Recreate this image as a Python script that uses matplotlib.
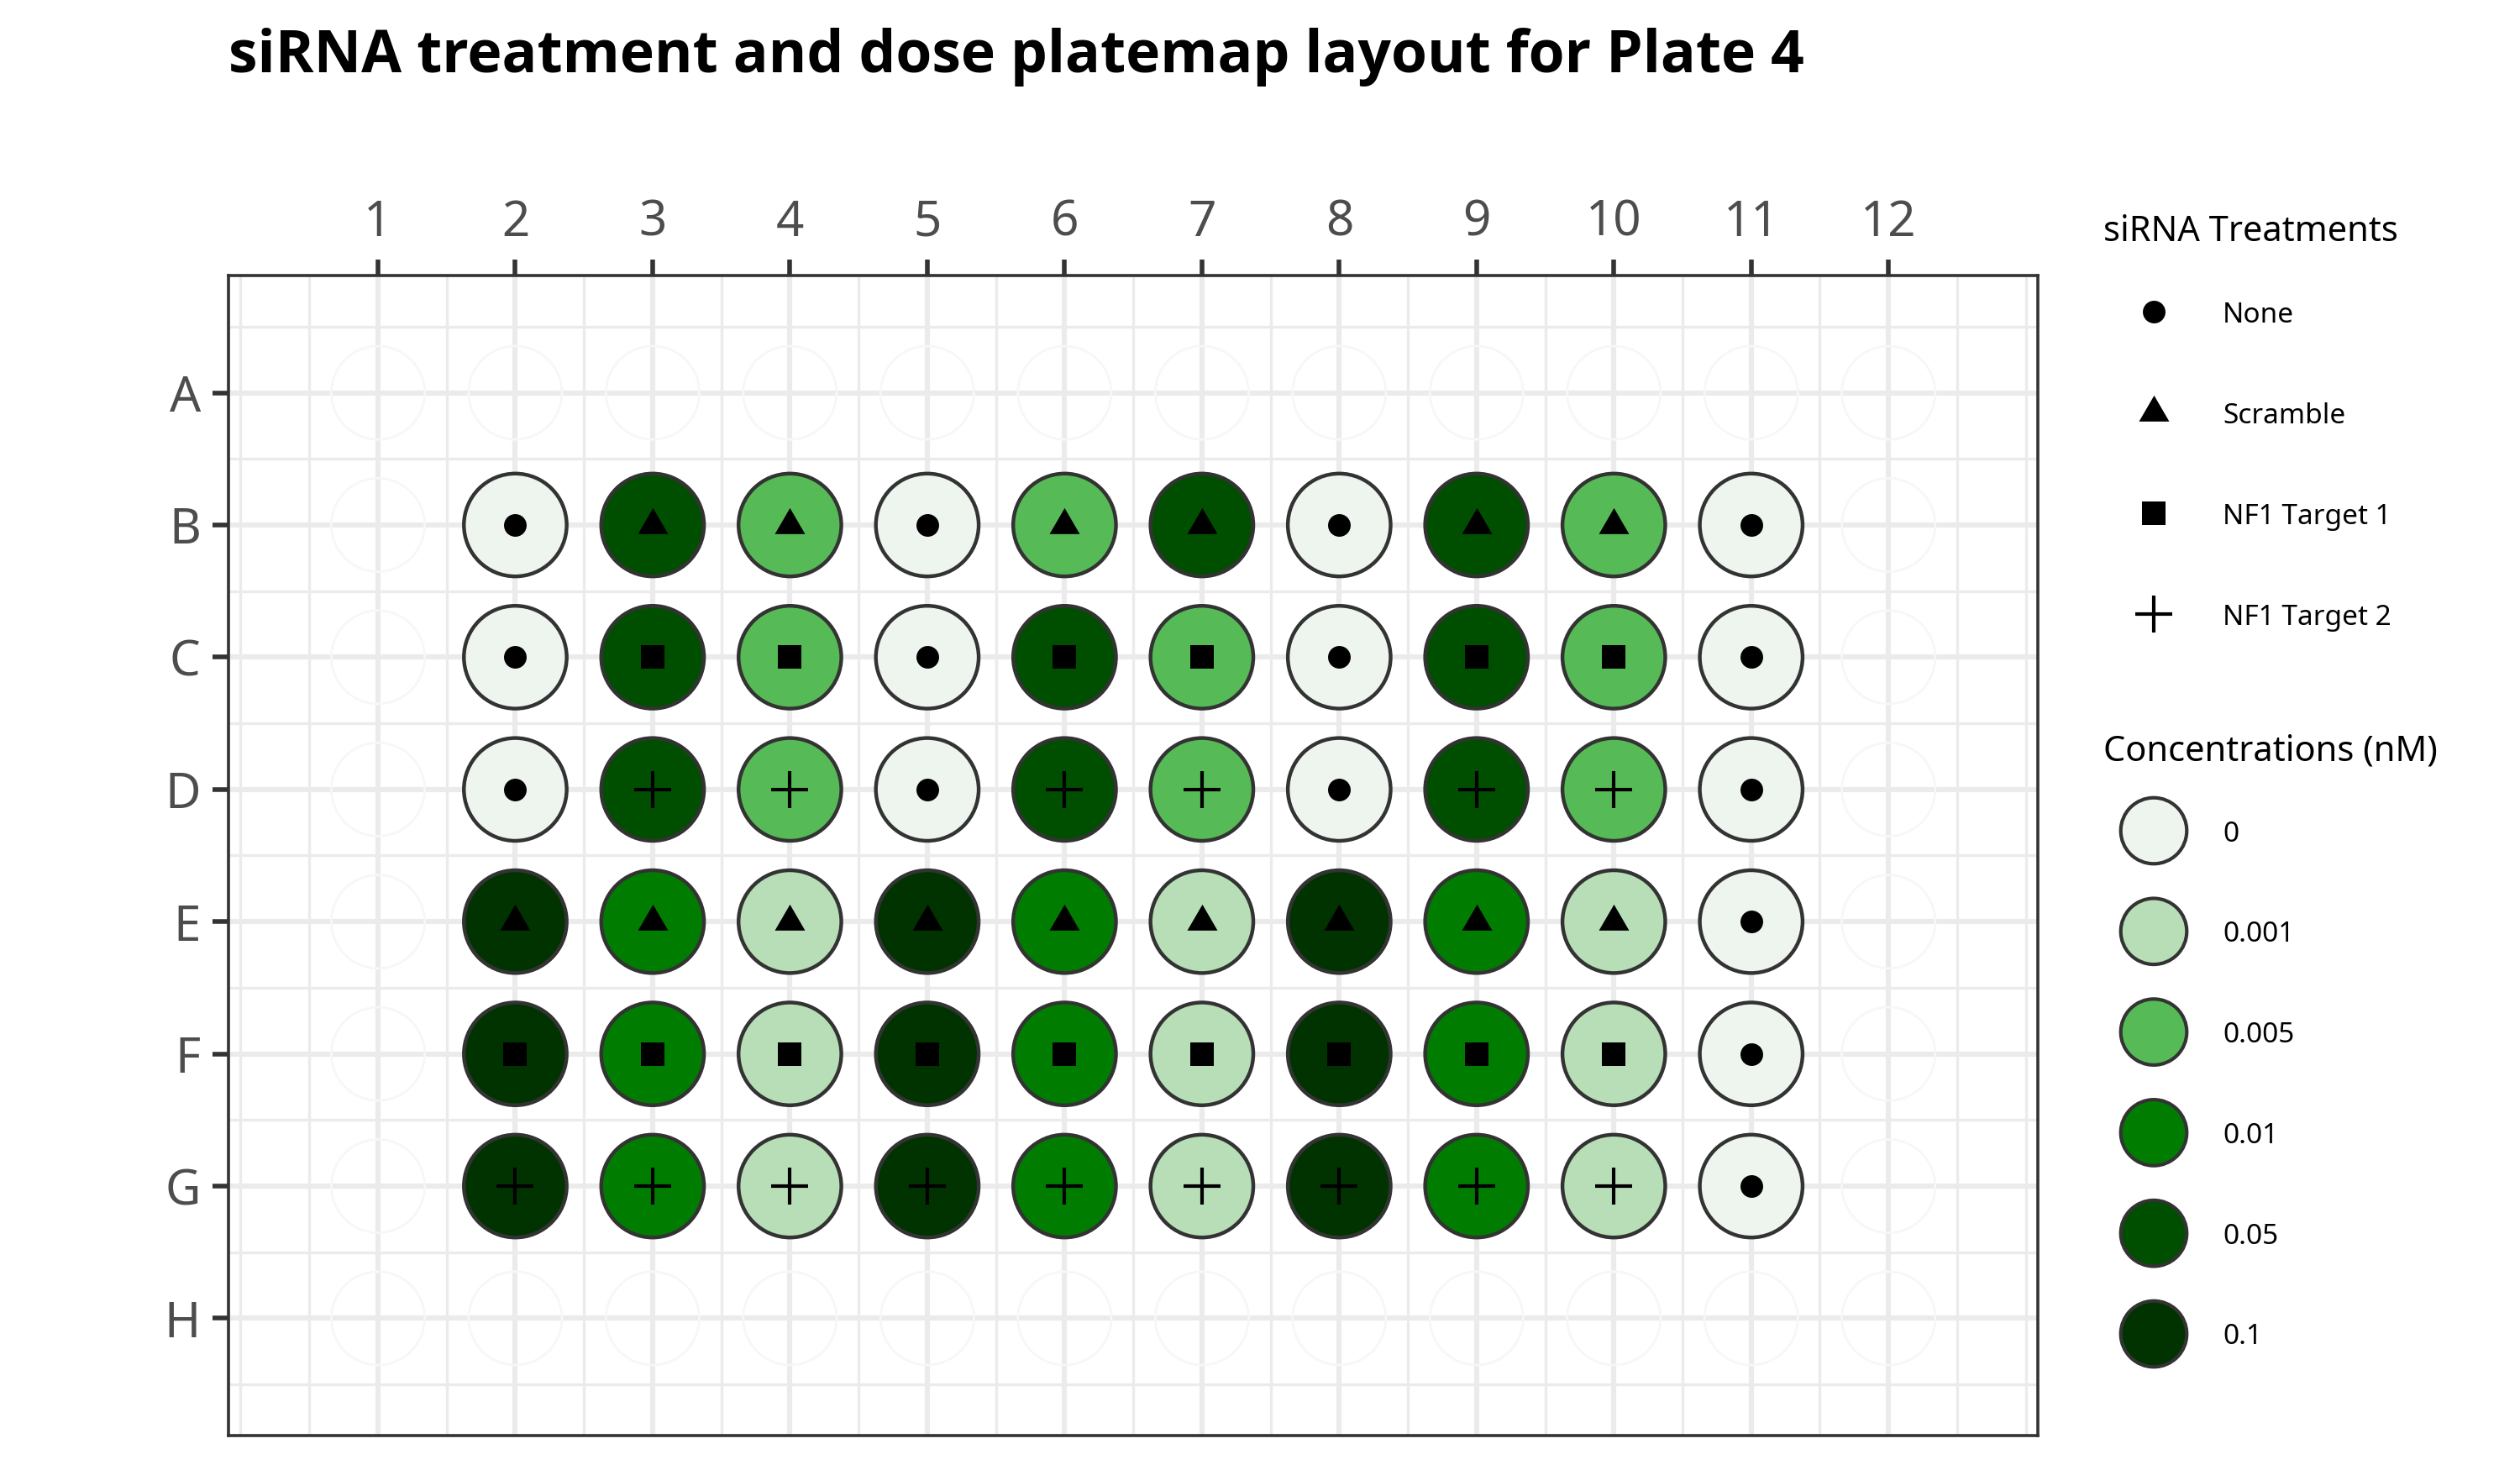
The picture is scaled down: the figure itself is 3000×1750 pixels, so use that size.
import numpy as np
import matplotlib.pyplot as plt
from matplotlib.path import Path

plt.rcParams['font.family'] = ['Noto Sans', 'DejaVu Sans']

# plate layout: rows B..G, columns 2..11
row_names = ['A', 'B', 'C', 'D', 'E', 'F', 'G', 'H']
col_names = list(range(1, 13))
used_rows = ['B', 'C', 'D', 'E', 'F', 'G']
used_cols = list(range(2, 12))

conc_B = [0, 0.05, 0.005, 0, 0.005, 0.05, 0, 0.05, 0.005, 0]
conc_C = [0, 0.05, 0.005, 0, 0.05, 0.005, 0, 0.05, 0.005, 0]
conc_D = [0, 0.05, 0.005, 0, 0.05, 0.005, 0, 0.05, 0.005, 0]
conc_E = [0.1, 0.01, 0.001, 0.1, 0.01, 0.001, 0.1, 0.01, 0.001, 0]
conc_F = [0.1, 0.01, 0.001, 0.1, 0.01, 0.001, 0.1, 0.01, 0.001, 0]
conc_G = [0.1, 0.01, 0.001, 0.1, 0.01, 0.001, 0.1, 0.01, 0.001, 0]

treat_B = ['None', 'Scramble', 'Scramble', 'None', 'Scramble', 'Scramble', 'None', 'Scramble', 'Scramble', 'None']
treat_C = ['None', 'NF1 Target 1', 'NF1 Target 1', 'None', 'NF1 Target 1', 'NF1 Target 1', 'None', 'NF1 Target 1', 'NF1 Target 1', 'None']
treat_D = ['None', 'NF1 Target 2', 'NF1 Target 2', 'None', 'NF1 Target 2', 'NF1 Target 2', 'None', 'NF1 Target 2', 'NF1 Target 2', 'None']
treat_E = ['Scramble'] * 9 + ['None']
treat_F = ['NF1 Target 1'] * 9 + ['None']
treat_G = ['NF1 Target 2'] * 9 + ['None']

treatments = ['None', 'Scramble', 'NF1 Target 1', 'NF1 Target 2']
concentrations = [0, 0.001, 0.005, 0.01, 0.05, 0.1]
conc_labels = ['0', '0.001', '0.005', '0.01', '0.05', '0.1']
conc_colors = ['#EEF5EE', '#B7DEB7', '#56BB56', '#007D00', '#004F00', '#003300']

# marker styles for treatments
w, h = 36.0, 31.0
tri = Path([(0, 2*h/3), (-w/2, -h/3), (w/2, -h/3), (0, 2*h/3)],
           [Path.MOVETO, Path.LINETO, Path.LINETO, Path.CLOSEPOLY])
tmarker = {'None': 'o', 'Scramble': tri, 'NF1 Target 1': 's', 'NF1 Target 2': '+'}
tsize = {'None': 94, 'Scramble': 221, 'NF1 Target 1': 98, 'NF1 Target 2': 240}

conc_rows = [conc_B, conc_C, conc_D, conc_E, conc_F, conc_G]
treat_rows = [treat_B, treat_C, treat_D, treat_E, treat_F, treat_G]

wx, wy, wc, wt = [], [], [], []
for r, cr, tr in zip(used_rows, conc_rows, treat_rows):
    for c, cv, tv in zip(used_cols, cr, tr):
        wx.append(c)
        wy.append(row_names.index(r) + 1)
        wc.append(conc_colors[concentrations.index(cv)])
        wt.append(tv)
wx = np.array(wx); wy = np.array(wy); wt = np.array(wt)

fig = plt.figure(figsize=(15, 8.75), dpi=200)
ax = fig.add_axes([0.0907, 0.0234, 0.718, 0.7892])

# empty plate wells
gx, gy = np.meshgrid(col_names, np.arange(1, 9))
ax.scatter(gx.ravel(), gy.ravel(), s=1600, facecolors='none', edgecolors='#F7F7F7',
           linewidths=1.0, zorder=2)

# filled wells
ax.scatter(wx, wy, s=1940, c=wc, edgecolors='#333333', linewidths=1.6, zorder=3)

for t in treatments:
    m = wt == t
    if t == 'NF1 Target 2':
        ax.scatter(wx[m], wy[m], s=tsize[t], marker=tmarker[t], c='black', linewidths=1.5, zorder=4)
    else:
        ax.scatter(wx[m], wy[m], s=tsize[t], marker=tmarker[t], c='black', linewidths=0, zorder=4)

ax.set_xlim(-0.088, 13.088)
ax.set_ylim(8.887, 0.113)
ax.set_xticks(col_names)
ax.set_xticklabels([str(c) for c in col_names])
ax.set_yticks(np.arange(1, 9))
ax.set_yticklabels(row_names)
ax.set_xticks(np.arange(0, 13.5, 0.5), minor=True)
ax.set_yticks(np.arange(0.5, 9, 1.0), minor=True)
ax.xaxis.tick_top()
ax.tick_params(which='major', length=7, width=2, color='#333333', labelsize=21,
               labelcolor='#4D4D4D', pad=5)
ax.tick_params(which='minor', length=0)
ax.grid(which='major', color='#EBEBEB', linewidth=2.2)
ax.grid(which='minor', color='#EBEBEB', linewidth=1.2)
ax.set_axisbelow(True)
for sp in ax.spines.values():
    sp.set_color('#333333')
    sp.set_linewidth(1.3)

fig.text(0.0907, 0.951, 'siRNA treatment and dose platemap layout for Plate 4',
         fontsize=25, fontweight='bold', family=['Open Sans', 'DejaVu Sans'],
         va='baseline', ha='left')

# legends (drawn in pixel space)
lx = fig.add_axes([0, 0, 1, 1])
lx.set_xlim(0, 3000)
lx.set_ylim(1750, 0)
lx.axis('off')

lx.text(2504, 276, 'siRNA Treatments', fontsize=15, va='center', ha='left')
ty = 371 + 120 * np.arange(len(treatments))
for i, t in enumerate(treatments):
    lw = 1.5 if t == 'NF1 Target 2' else 0
    lx.scatter([2564], [ty[i]], s=tsize[t], marker=tmarker[t], c='black', linewidths=lw)
    lx.text(2646, ty[i] + 4, t, fontsize=12, va='center', ha='left')

lx.text(2504, 894, 'Concentrations (nM)', fontsize=15, va='center', ha='left')
cy = 989 + 119.8 * np.arange(len(concentrations))
lx.scatter(np.full(len(cy), 2564), cy, s=800, c=conc_colors, edgecolors='#333333', linewidths=1.5)
for i, lab in enumerate(conc_labels):
    lx.text(2646, cy[i] + 4, lab, fontsize=12, va='center', ha='left')

fig.savefig('out.png', dpi=200)
